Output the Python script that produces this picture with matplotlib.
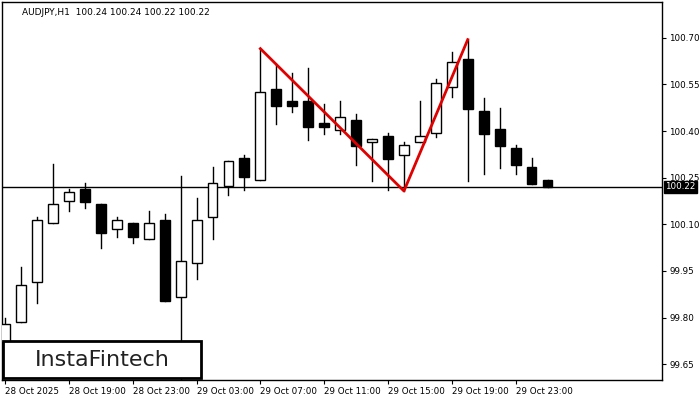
import matplotlib
matplotlib.use("Agg")
import matplotlib.pyplot as plt
from matplotlib.patches import Rectangle

# hourly candles from 28 Oct 15:00
opens  = [99.72, 99.785, 99.913, 100.105, 100.175, 100.214, 100.166, 100.086, 100.105, 100.054,
          100.114, 99.865, 99.974, 100.124, 100.223, 100.313, 100.242, 100.534, 100.495, 100.495,
          100.425, 100.402, 100.434, 100.364, 100.383, 100.322, 100.364, 100.393, 100.543, 100.633,
          100.463, 100.406, 100.345, 100.284, 100.242]
closes = [99.78, 99.903, 100.114, 100.166, 100.204, 100.172, 100.073, 100.114, 100.06, 100.105,
          99.852, 99.983, 100.114, 100.233, 100.303, 100.252, 100.524, 100.482, 100.482, 100.412,
          100.412, 100.444, 100.351, 100.374, 100.31, 100.354, 100.383, 100.553, 100.623, 100.47,
          100.39, 100.351, 100.29, 100.23, 100.22]
highs  = [99.80, 99.964, 100.124, 100.294, 100.214, 100.233, 100.166, 100.124, 100.105, 100.143,
          100.134, 100.255, 100.185, 100.284, 100.303, 100.322, 100.665, 100.614, 100.585, 100.604,
          100.486, 100.495, 100.454, 100.374, 100.393, 100.364, 100.495, 100.566, 100.655, 100.694,
          100.505, 100.473, 100.354, 100.313, 100.242]
lows   = [99.70, 99.785, 99.846, 100.105, 100.143, 100.153, 100.025, 100.06, 100.041, 100.054,
          99.852, 99.55, 99.925, 100.054, 100.194, 100.21, 100.242, 100.421, 100.46, 100.37,
          100.39, 100.39, 100.29, 100.239, 100.21, 100.207, 100.364, 100.38, 100.511, 100.239,
          100.261, 100.281, 100.261, 100.23, 100.22]

pattern_x = [16, 25, 29]
pattern_y = [100.665, 100.207, 100.694]
last_price = 100.22
yticks = [100.70, 100.55, 100.40, 100.25, 100.10, 99.95, 99.80, 99.65]
xtick_pos = [0, 4, 8, 12, 16, 20, 24, 28, 32]
xtick_labels = ["28 Oct 2025", "28 Oct 19:00", "28 Oct 23:00", "29 Oct 03:00", "29 Oct 07:00",
                "29 Oct 11:00", "29 Oct 15:00", "29 Oct 19:00", "29 Oct 23:00"]

fig = plt.figure(figsize=(7, 4), dpi=100)
ax = fig.add_axes([0.003, 0.05, 0.943, 0.945])

for i, (o, c, h, l) in enumerate(zip(opens, closes, highs, lows)):
    ax.plot([i, i], [l, h], color="black", lw=1, zorder=2)
    up = c >= o
    ax.add_patch(Rectangle((i - 0.31, min(o, c)), 0.62, max(abs(c - o), 0.004),
                           facecolor="white" if up else "black", edgecolor="black", lw=1, zorder=3))

ax.axhline(last_price, color="black", lw=1, zorder=1)
ax.plot(pattern_x, pattern_y, color="#e00000", lw=2, zorder=4)

ax.set_xlim(-0.19, 41.19)
ax.set_ylim(99.599, 100.815)
ax.yaxis.tick_right()
ax.set_yticks(yticks)
ax.set_yticklabels([f"{v:.2f}" for v in yticks], fontsize=6.3)
ax.set_xticks(xtick_pos)
ax.set_xticklabels(xtick_labels, fontsize=6.3, ha="left")
ax.tick_params(length=3, pad=2)
for s in ax.spines.values():
    s.set_linewidth(1)

ax.text(0.03, 0.985, "AUDJPY,H1  100.24 100.24 100.22 100.22", transform=ax.transAxes,
        fontsize=6.5, va="top")
ax.text(1.004, last_price, "100.22", transform=ax.get_yaxis_transform(), fontsize=6.3,
        va="center", ha="left", color="white",
        bbox=dict(boxstyle="square,pad=0.15", fc="black", ec="black"))

fig.patches.append(Rectangle((3 / 700, 22 / 400), 198 / 700, 37 / 400, transform=fig.transFigure,
                             fc="white", ec="black", lw=2, zorder=10))
fig.text(102 / 700, 40 / 400, "InstaFintech", fontsize=16, ha="center", va="center",
         color="#222222", zorder=11)

fig.savefig("out.png", dpi=100)
